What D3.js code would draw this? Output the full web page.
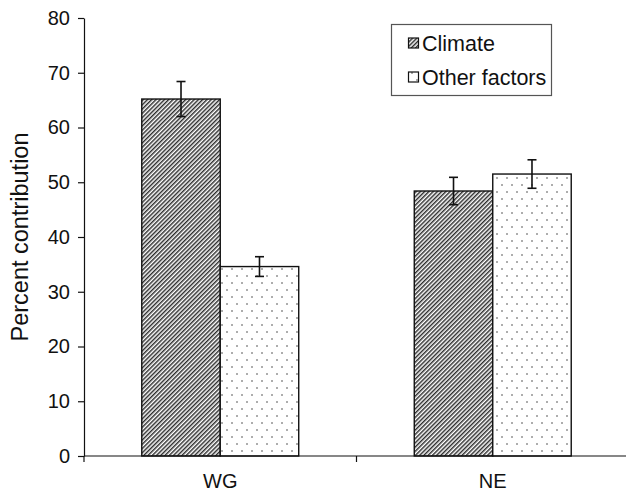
<!DOCTYPE html>
<html>
<head>
<meta charset="utf-8">
<script src="https://cdn.jsdelivr.net/npm/d3@7"></script>
<style>
  html, body { margin: 0; padding: 0; background: #fff; }
  svg { display: block; font-family: "Liberation Sans", Arial, sans-serif; }
</style>
</head>
<body>
<svg id="chart" width="626" height="492"></svg>
<script>
// Regions and contributing factors
const regions = ["WG", "NE"];
const factors = ["Climate", "Other factors"];
// Mean percent contribution per region, one array per factor
const climateValues = [65.2, 48.4];
const otherValues = [34.6, 51.5];
// Error (±) per region
const climateErrors = [3.2, 2.5];
const otherErrors = [1.8, 2.6];
const yTicks = [0, 10, 20, 30, 40, 50, 60, 70, 80];

const rows = [];
regions.forEach((r, i) => {
  rows.push({ region: r, factor: factors[0], value: climateValues[i], err: climateErrors[i] });
  rows.push({ region: r, factor: factors[1], value: otherValues[i], err: otherErrors[i] });
});

const svg = d3.select("#chart");
const plotLeft = 84, plotRight = 629, plotTop = 18, plotBottom = 456;

const x = d3.scaleBand().domain(regions).range([plotLeft, plotRight]).padding(0);
const bw = x.bandwidth();
const xInner = d3.scaleBand().domain(factors).range([bw * 0.212, bw * 0.788]).padding(0);
const y = d3.scaleLinear().domain([0, 80]).range([plotBottom, plotTop]);

// Fill patterns: diagonal hatch and dotted
const defs = svg.append("defs");
const hatch = defs.append("pattern")
  .attr("id", "hatch").attr("patternUnits", "userSpaceOnUse")
  .attr("width", 3).attr("height", 3)
  .attr("patternTransform", "rotate(45)");
hatch.append("rect").attr("width", 3).attr("height", 3).attr("fill", "#fff");
hatch.append("line").attr("x1", 0.75).attr("y1", 0).attr("x2", 0.75).attr("y2", 3)
  .attr("stroke", "#222").attr("stroke-width", 1.4);

const dots = defs.append("pattern")
  .attr("id", "dots").attr("patternUnits", "userSpaceOnUse")
  .attr("width", 10).attr("height", 14);
dots.append("rect").attr("width", 10).attr("height", 14).attr("fill", "#fff");
dots.append("circle").attr("cx", 2).attr("cy", 3).attr("r", 0.8).attr("fill", "#444");
dots.append("circle").attr("cx", 7).attr("cy", 10).attr("r", 0.8).attr("fill", "#444");

const fillFor = f => f === factors[0] ? "url(#hatch)" : "url(#dots)";

// Bars
svg.append("g").selectAll("rect").data(rows).join("rect")
  .attr("x", d => x(d.region) + xInner(d.factor))
  .attr("y", d => y(d.value))
  .attr("width", xInner.bandwidth())
  .attr("height", d => y(0) - y(d.value))
  .attr("fill", d => fillFor(d.factor))
  .attr("stroke", "#111").attr("stroke-width", 1.4);

// Error bars
const eb = svg.append("g").attr("stroke", "#111").attr("stroke-width", 1.6);
rows.forEach(d => {
  const cx = x(d.region) + xInner(d.factor) + xInner.bandwidth() / 2;
  eb.append("line").attr("x1", cx).attr("x2", cx).attr("y1", y(d.value + d.err)).attr("y2", y(d.value - d.err));
  eb.append("line").attr("x1", cx - 4.5).attr("x2", cx + 4.5).attr("y1", y(d.value + d.err)).attr("y2", y(d.value + d.err));
  eb.append("line").attr("x1", cx - 4.5).attr("x2", cx + 4.5).attr("y1", y(d.value - d.err)).attr("y2", y(d.value - d.err));
});

// Y axis
const yAxis = svg.append("g").attr("transform", `translate(${plotLeft},0)`)
  .call(d3.axisLeft(y).tickValues(yTicks).tickSize(6).tickPadding(8).tickSizeOuter(0));
yAxis.select(".domain").attr("stroke", "#111").attr("stroke-width", 1.2);
yAxis.selectAll(".tick line").attr("stroke", "#111").attr("stroke-width", 1.2);
yAxis.selectAll("text").attr("font-size", 20).attr("fill", "#111")
  .attr("font-family", "'Liberation Sans', Arial, sans-serif");

// X axis with boundary ticks between regions
const xg = svg.append("g").attr("transform", `translate(0,${plotBottom})`);
xg.append("line").attr("x1", plotLeft).attr("x2", plotRight).attr("y1", 0).attr("y2", 0)
  .attr("stroke", "#111").attr("stroke-width", 1.2);
regions.forEach(r => {
  xg.append("line").attr("x1", x(r)).attr("x2", x(r)).attr("y1", 0).attr("y2", 6)
    .attr("stroke", "#111").attr("stroke-width", 1.2);
  xg.append("text").attr("x", x(r) + bw / 2).attr("y", 32)
    .attr("text-anchor", "middle").attr("font-size", 20).attr("fill", "#111").text(r);
});

// Y axis title
svg.append("text")
  .attr("transform", `translate(28,${(plotTop + plotBottom) / 2}) rotate(-90)`)
  .attr("text-anchor", "middle").attr("font-size", 23.5).attr("fill", "#111")
  .text("Percent contribution");

// Legend
const lg = svg.append("g");
lg.append("rect").attr("x", 391.5).attr("y", 24.5).attr("width", 160).attr("height", 71)
  .attr("fill", "#fff").attr("stroke", "#555").attr("stroke-width", 1.2);
factors.forEach((f, i) => {
  const cy = 43 + i * 34;
  lg.append("rect").attr("x", 408.5).attr("y", cy - 5).attr("width", 10).attr("height", 10)
    .attr("fill", fillFor(f)).attr("stroke", "#111").attr("stroke-width", 1.2);
  lg.append("text").attr("x", 422).attr("y", cy + 7.5).attr("font-size", 21.5).attr("fill", "#111").text(f);
});
</script>
</body>
</html>
